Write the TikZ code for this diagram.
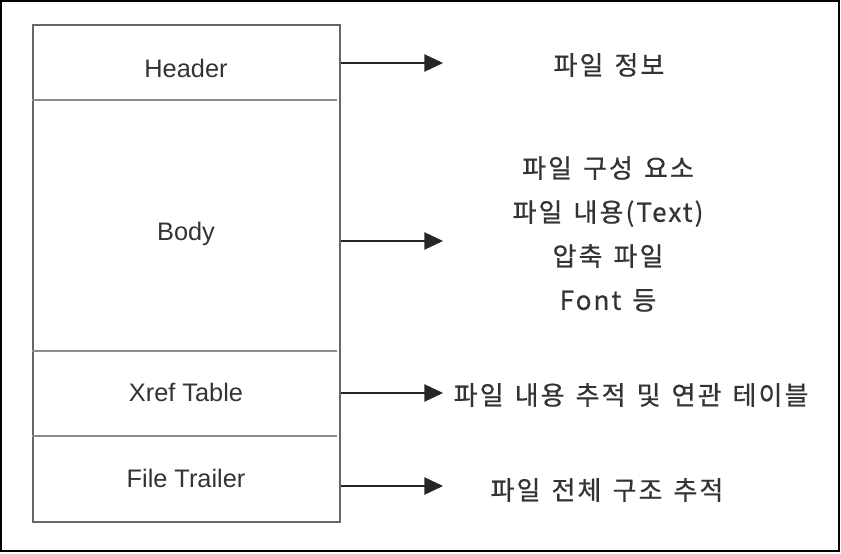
\documentclass[tikz,border=0pt]{standalone}
\usepackage{fontspec}
\setmainfont{Liberation Sans}
\newfontfamily\kr[LetterSpace=8,WordSpace=1.4,FakeBold=0.6]{Noto Sans CJK KR}
\usetikzlibrary{arrows.meta}

\begin{document}
\begin{tikzpicture}[x=0.75pt,y=-0.75pt,
  sect/.style={font=\fontsize{19}{23}\selectfont, text=black!80},
  desc/.style={font=\kr\fontsize{19.5}{33}\selectfont, text=black!80, align=center},
  divline/.style={black!45, line width=1.5pt},
  arr/.style={-{Triangle[length=14pt,width=13pt]}, line width=1.1pt, black!85}]
\useasboundingbox (0,0) rectangle (841,553);
\draw[line width=1pt] (1,1) rectangle (839,551);
% file box
\node[draw=black!60, line width=1.5pt, minimum width=230.25pt, minimum height=372.75pt, inner sep=0pt] (file) at (186.5,273.5) {};
\foreach \y in {100,351,436}
  \draw[divline] (file.west |- 0,\y) -- ([xshift=-3pt]file.east |- 0,\y);
\node[sect] (hdr) at (186,68) {Header};
\node[sect] (body) at (186,234) {Body};
\node[sect] (xref) at (186,392) {Xref Table};
\node[sect] (trailer) at (186,478) {File Trailer};
% arrows
\coordinate (hdrtip) at (443,63);
\coordinate (bodytip) at (443,241);
\coordinate (xreftip) at (443,393);
\coordinate (trailertip) at (443,486);
\draw[arr] (file.east |- hdrtip) -- (hdrtip);
\draw[arr] (file.east |- bodytip) -- (bodytip);
\draw[arr] (file.east |- xreftip) -- (xreftip);
\draw[arr] (file.east |- trailertip) -- (trailertip);
% descriptions
\node[desc] (hdrinfo) at (609,65) {파일 정보};
\node[desc] (bodyinfo) at (608,234) {파일 구성 요소\\파일 내용(Text)\\압축 파일\\Font 등};
\node[desc, anchor=west] (xrefinfo) at (449,395) {파일 내용 추적 및 연관 테이블};
\node[desc] (trailerinfo) at (607,490) {파일 전체 구조 추적};
\end{tikzpicture}
\end{document}
